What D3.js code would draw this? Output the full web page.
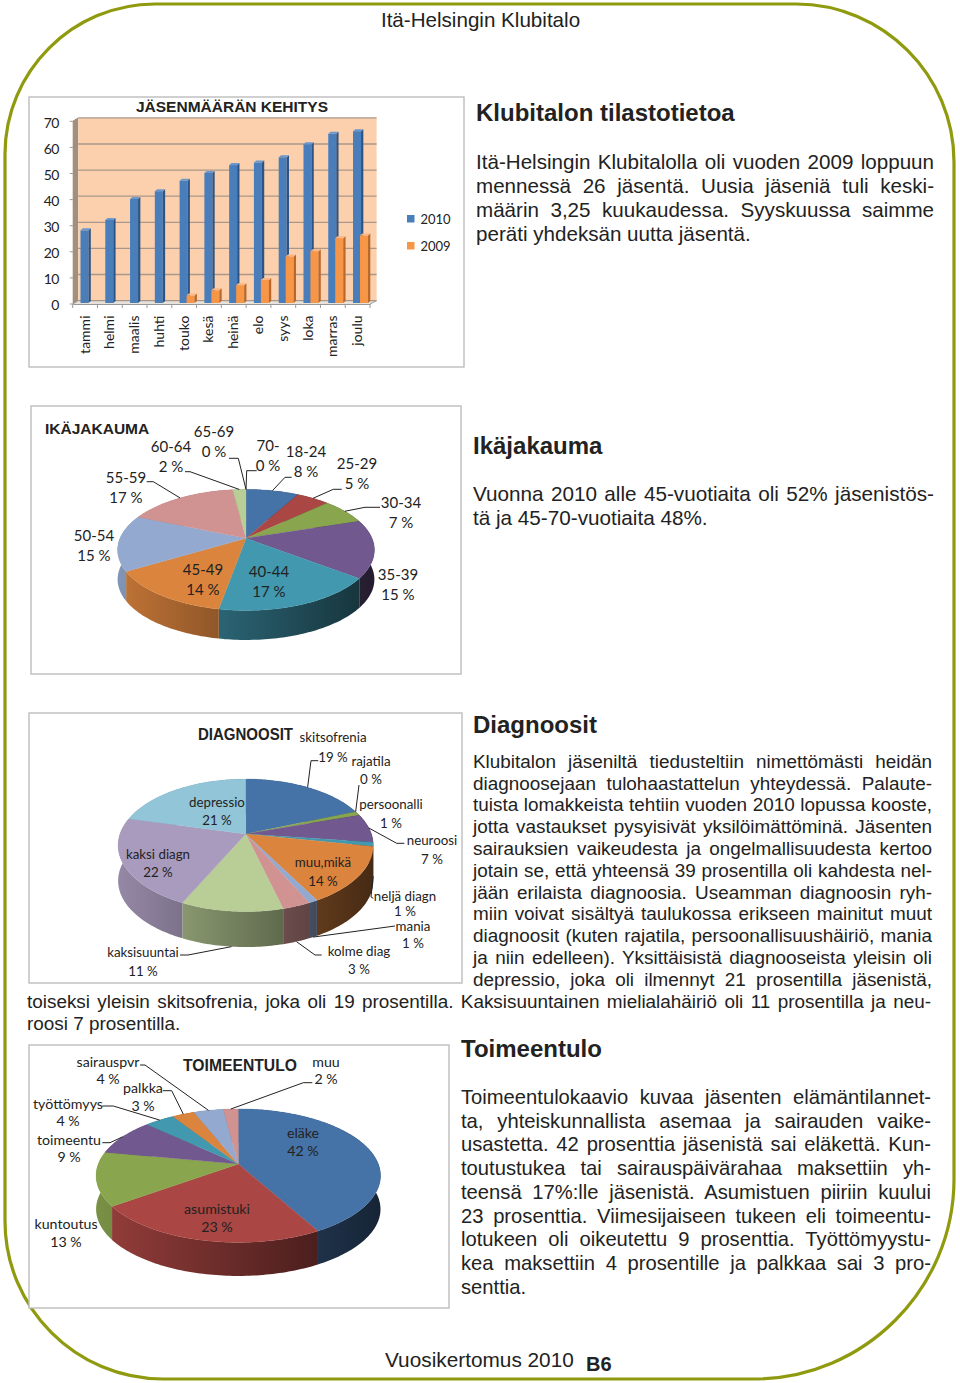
<!DOCTYPE html>
<html><head><meta charset="utf-8">
<script src="https://cdn.jsdelivr.net/npm/d3@7"></script>
<style>
html,body{margin:0;padding:0;background:#fff}
svg{display:block}
text{fill:#222}
.lab{font-family:Lato,"Open Sans",sans-serif;}
.body{font-family:"Liberation Sans",Arial,sans-serif;}
</style></head><body>
<svg id="c" width="960" height="1383"></svg>
<script>
// ---------- data ----------
const months=["tammi","helmi","maalis","huhti","touko","kesä","heinä","elo","syys","loka","marras","joulu"];
const members2010=[28,32,40,43,47,50,53,54,56,61,65,66];
const members2009=[0,0,0,0,3,5,7,9,18,20,25,26];
const yTicks=[0,10,20,30,40,50,60,70];

const ageNames=["18-24","25-29","30-34","35-39","40-44","45-49","50-54","55-59","60-64","65-69","70-"];
const ageValues=[8,5,7,15.4,17.4,13.6,15,16.6,2,0,0];

const diagNames=["skitsofrenia","rajatila","persoonalli","neuroosi","neljä diagn","muu,mikä","mania","kolme diag","kaksisuuntai","kaksi diagn","depressio"];
const diagValues=[19,0,1,7,1,14,1,3,11,22,21];

const incomeNames=["eläke","asumistuki","kuntoutus","toimeentu","työttömyys","palkka","sairauspvr","muu"];
const incomeValues=[42,23,13,9,4,3,4,2];

const palette=["#4572A7","#AA4643","#89A54E","#71588F","#4198AF","#DB843D","#93A9CF","#D19392","#B9CD96","#A99BBD","#92C5D8"];

// ---------- layout of annotations ----------
const agePos=[[306,452],[357,464],[401,503],[398,575],[269,572],[203,570],[94,536],[126,478],[171,447],[214,432],[268,446]];
const ageLeaders={0:[[291.7,477.3],[285,477.3],0],1:[[341.7,489.3],[333.3,489.3],0],2:[[380,507.3],[365,507.3],0],
 7:[[146.7,481.7],[153.3,481.7],0],8:[[185,471.7],[190,471.7],0],9:[[229,458.3],[238.3,458.3],0],10:[[256.7,470.7],[246.7,470.7],0]};

const diagPos=[[333,737],[371,761],[391,804],[432,840],[405,896],[323,862],[413,926.5],[359,951],[143,952],[158,854],[217,802]];
const diagGap=[20,18,19,19,15.5,19,17,18,19,18,18];
const diagLeaders={0:[[318.3,760.7],[311,760.7],0],1:[[359,785],[359,785],0],3:[[404.3,843.3],[396.7,843.3],0],
 4:[[373.3,898.3],[371,897],0.9],6:[[395,926],[395,926],1],7:[[321.7,955],[315,955],1],8:[[180,955],[188,955],1]};

const incomePos=[[303,1133],[217,1209],[66,1224],[69,1140],[68,1104],[143,1088],[108,1062],[326,1062]];
const incomeGap=[18,18,18,17,17,18,17,17];
const incomeLeaders={3:[[102.3,1142.7],[110,1142.7],0],4:[[102.3,1106],[113.3,1106],0],5:[[162.7,1090.7],[171.7,1090.7],0],
 6:[[140,1065],[145,1065],0],7:[[312.3,1082.7],[303.3,1082.7],0]};

// ---------- text ----------
const header="Itä-Helsingin Klubitalo";
const para1=["Itä-Helsingin Klubitalolla oli vuoden 2009 loppuun","mennessä 26 jäsentä. Uusia jäseniä tuli keski-","määrin 3,25 kuukaudessa. Syyskuussa saimme","peräti yhdeksän uutta jäsentä."];
const para2=["Vuonna 2010 alle 45-vuotiaita oli 52% jäsenistös-","tä ja 45-70-vuotiaita 48%."];
const para3=["Klubitalon jäseniltä tiedusteltiin nimettömästi heidän","diagnoosejaan tulohaastattelun yhteydessä. Palaute-","tuista lomakkeista tehtiin vuoden 2010 lopussa kooste,","jotta vastaukset pysyisivät yksilöimättöminä. Jäsenten","sairauksien vaikeudesta ja ongelmallisuudesta kertoo","jotain se, että yhteensä 39 prosentilla oli kahdesta nel-","jään erilaista diagnoosia. Useamman diagnoosin ryh-","miin voivat sisältyä taulukossa erikseen mainitut muut","diagnoosit (kuten rajatila, persoonallisuushäiriö, mania","ja niin edelleen). Yksittäisistä diagnooseista yleisin oli","depressio, joka oli ilmennyt 21 prosentilla jäsenistä,"];
const para3b=["toiseksi yleisin skitsofrenia, joka oli 19 prosentilla. Kaksisuuntainen mielialahäiriö oli 11 prosentilla ja neu-","roosi 7 prosentilla."];
const para4=["Toimeentulokaavio kuvaa jäsenten elämäntilannet-","ta, yhteiskunnallista asemaa ja sairauden vaike-","usastetta. 42 prosenttia jäsenistä sai eläkettä. Kun-","toutustukea tai sairauspäivärahaa maksettiin yh-","teensä 17%:lle jäsenistä. Asumistuen piiriin kuului","23 prosenttia. Viimesijaiseen tukeen eli toimeentu-","lotukeen oli oikeutettu 9 prosenttia. Työttömyystu-","kea maksettiin 4 prosentille ja palkkaa sai 3 pro-","senttia."];

const svg=d3.select("#c");
const defs=svg.append("defs");

// ---------- page frame ----------
const path=d3.path();
const L=5,T=4,R=954,B=1379,rTL=150,rTR=158,rBR=200,rBL=158;
path.moveTo(L+rTL,T);path.lineTo(R-rTR,T);path.bezierCurveTo(R-rTR*.45,T,R,T+rTR*.45,R,T+rTR);
path.lineTo(R,B-rBR);path.bezierCurveTo(R,B-rBR*.45,R-rBR*.45,B,R-rBR,B);
path.lineTo(L+rBL,B);path.bezierCurveTo(L+rBL*.45,B,L,B-rBL*.45,L,B-rBL);
path.lineTo(L,T+rTL);path.bezierCurveTo(L,T+rTL*.45,L+rTL*.45,T,L+rTL,T);path.closePath();
svg.append("path").attr("d",path.toString()).attr("fill","#fff").attr("stroke","#8F9A0E").attr("stroke-width",3.2);

function frame(x0,y0,x1,y1){
 svg.append("rect").attr("x",x0).attr("y",y0).attr("width",x1-x0).attr("height",y1-y0)
  .attr("fill","#fff").attr("stroke","#BDBDBD").attr("stroke-width",1.4);
}
frame(29,97,464,367);frame(31,406,461,674);frame(29,713,462,983);frame(29,1045,449,1308);

// ---------- bar chart ----------
(function(){
 const x=d3.scaleBand().domain(months).range([72.7,370]);
 const y=d3.scaleLinear().domain([0,70]).range([304,121.3]);
 const dx=5.6,dy=-3.4;
 const g=svg.append("g");
 // walls
 g.append("polygon").attr("points",[[x.range()[0],y(0)],[x.range()[0]+dx,y(0)+dy],[x.range()[0]+dx,y(70)+dy],[x.range()[0],y(70)]].join(" ")).attr("fill","#A48E7E");
 g.append("polygon").attr("points",[[x.range()[0]+dx,y(70)+dy],[x.range()[1]+dx+1,y(70)+dy],[x.range()[1]+dx+1,y(0)+dy],[x.range()[0]+dx,y(0)+dy]].join(" ")).attr("fill","#FCD0AC");
 g.append("polygon").attr("points",[[x.range()[0],y(0)],[x.range()[0]+dx,y(0)+dy],[x.range()[1]+dx+1,y(0)+dy],[x.range()[1],y(0)]].join(" ")).attr("fill","#E9E2DA");
 yTicks.forEach(v=>{
  g.append("line").attr("x1",x.range()[0]+dx).attr("x2",x.range()[1]+dx+1).attr("y1",y(v)+dy).attr("y2",y(v)+dy).attr("stroke","#A8978A").attr("stroke-width",1.3);
  g.append("line").attr("x1",x.range()[0]).attr("x2",x.range()[0]+dx).attr("y1",y(v)).attr("y2",y(v)+dy).attr("stroke","#9C8E84").attr("stroke-width",1);
 });
 g.append("line").attr("x1",x.range()[1]).attr("x2",x.range()[1]+dx+1).attr("y1",y(0)).attr("y2",y(0)+dy).attr("stroke","#999");
 function bars(vals,off,front,side,top){
  const w=8,sx=2.3,sy=-2,base=y(0)-1;
  months.forEach((m,i)=>{
   const v=vals[i]; if(!v) return;
   const x0=x(m)+off,y0=y(v)-0.6;
   g.append("rect").attr("x",x0).attr("y",y0).attr("width",w).attr("height",base-y0).attr("fill",front);
   g.append("polygon").attr("points",[[x0+w,y0],[x0+w+sx,y0+sy],[x0+w+sx,base+sy],[x0+w,base]].join(" ")).attr("fill",side);
   g.append("polygon").attr("points",[[x0,y0],[x0+sx,y0+sy],[x0+w+sx,y0+sy],[x0+w,y0]].join(" ")).attr("fill",top);
  });
 }
 bars(members2010,7.8,"#4A7EBB","#2C5587","#6C97CC");
 bars(members2009,14.8,"#F79646","#B8682A","#FBB684");
 // axes
 const ax=g.append("g").attr("transform",`translate(0,${y(0)})`).attr("class","lab")
  .call(d3.axisBottom(x).tickSize(0).tickPadding(0));
 ax.select(".domain").attr("stroke","#999").attr("stroke-width",1);
 ax.selectAll("text").attr("transform","rotate(-90)").attr("text-anchor","end").attr("dy","0.32em").attr("dx","-11.5")
  .attr("x",0).attr("y",0).style("font-size","14px").style("fill","#222");
 d3.range(13).forEach(i=>{
  const px=x.range()[0]+i*x.step();
  g.append("line").attr("x1",px).attr("x2",px).attr("y1",y(0)).attr("y2",y(0)+4).attr("stroke","#999");
 });
 const ay=g.append("g").attr("transform",`translate(${x.range()[0]},1.5)`).attr("class","lab")
  .call(d3.axisLeft(y).tickValues(yTicks).tickSize(0).tickPadding(14));
 ay.select(".domain").remove();
 ay.selectAll("text").style("font-size","14px").style("letter-spacing","-0.6px").style("fill","#222");
 d3.range(yTicks.length).forEach(i=>{const v=yTicks[i];
  g.append("line").attr("x1",x.range()[0]-3).attr("x2",x.range()[0]).attr("y1",y(v)).attr("y2",y(v)).attr("stroke","#999");});
 svg.append("text").attr("class","body").attr("x",232).attr("y",112).attr("text-anchor","middle")
  .attr("font-weight","bold").attr("font-size",15.5).text("JÄSENMÄÄRÄN KEHITYS");
 const leg=[["2010","#4A7EBB",218.5],["2009","#F79646",245.5]];
 leg.forEach(([t,c,py])=>{
  svg.append("rect").attr("x",407).attr("y",py-3.5).attr("width",7.5).attr("height",7.5).attr("fill",c);
  svg.append("text").attr("class","lab").attr("x",420.5).attr("y",py+5).attr("font-size",13).text(t);
 });
})();

// ---------- 3D pies ----------
let gid=0;
function pie3d(o){
 const arcs=d3.pie().sort(null).value(d=>d)(o.values);
 const rim=(th,wall)=>{
  const w=1+o.p*Math.cos(th);
  return [o.cx+o.a*Math.sin(th)/w, o.cy-o.b*Math.cos(th)/w+(wall||0)*o.h];
 };
 const hw=o.a/Math.sqrt(1-o.p*o.p);
 const line=d3.line();
 const g=svg.append("g");
 const samples=(a)=>{const n=Math.max(2,Math.ceil((a.endAngle-a.startAngle)/0.02));
  return d3.range(n+1).map(i=>a.startAngle+(a.endAngle-a.startAngle)*i/n);};
 // side walls
 arcs.forEach((a,i)=>{
  if(!(a.endAngle>a.startAngle)) return;
  const id="w"+(gid++);
  const gr=defs.append("linearGradient").attr("id",id).attr("gradientUnits","userSpaceOnUse")
   .attr("x1",o.cx-hw).attr("x2",o.cx+hw).attr("y1",0).attr("y2",0);
  const mix=d3.interpolateRgb("#000",palette[i]);
  gr.append("stop").attr("offset",0).attr("stop-color",mix(.88));
  gr.append("stop").attr("offset",.5).attr("stop-color",mix(.6));
  gr.append("stop").attr("offset",1).attr("stop-color",mix(.32));
  const th=samples(a);
  const pts=th.map(t=>rim(t,0)).concat(th.slice().reverse().map(t=>rim(t,1)));
  g.append("path").attr("d",line(pts)+"Z").attr("fill",`url(#${id})`);
 });
 // top faces
 arcs.forEach((a,i)=>{
  if(!(a.endAngle>a.startAngle)) return;
  const pts=[[o.cx,o.cy]].concat(samples(a).map(t=>rim(t,0)));
  g.append("path").attr("d",line(pts)+"Z").attr("fill",palette[i]).attr("stroke",palette[i]).attr("stroke-width",.3);
 });
 // leaders
 Object.entries(o.leaders).forEach(([k,l])=>{
  const a=arcs[+k],mid=(a.startAngle+a.endAngle)/2,end=rim(mid,l[2]);
  g.append("path").attr("d",line([l[0],l[1],end])).attr("fill","none").attr("stroke","#222").attr("stroke-width",1);
 });
 // labels
 o.names.forEach((n,i)=>{
  const [x,y]=o.pos[i],gap=o.gap?o.gap[i]:20;
  svg.append("text").attr("class","lab").attr("x",x).attr("y",y).attr("dy",".35em").attr("text-anchor","middle").attr("font-size",o.fs).text(n);
  svg.append("text").attr("class","lab").attr("x",x).attr("y",y+gap).attr("dy",".35em").attr("text-anchor","middle").attr("font-size",o.fs).text(Math.round(o.values[i])+" %");
 });
}
pie3d({values:ageValues,names:ageNames,pos:agePos,leaders:ageLeaders,cx:246,cy:538.3,a:126,b:58.3,p:.192,h:29.5,fs:15});
pie3d({values:diagValues,names:diagNames,pos:diagPos,gap:diagGap,leaders:diagLeaders,cx:245.7,cy:834,a:125.7,b:64.3,p:.171,h:35.5,fs:13.3});
pie3d({values:incomeValues,names:incomeNames,pos:incomePos,gap:incomeGap,leaders:incomeLeaders,cx:238.3,cy:1164,a:140,b:64.7,p:.175,h:33.5,fs:14.2});

svg.append("text").attr("class","body").attr("x",45).attr("y",433.5).attr("font-weight","bold").attr("font-size",15.5).text("IKÄJAKAUMA");
svg.append("text").attr("class","body").attr("x",245.5).attr("y",739.5).attr("text-anchor","middle").attr("font-weight","bold").attr("font-size",16).attr("textLength",95).attr("lengthAdjust","spacingAndGlyphs").text("DIAGNOOSIT");
svg.append("text").attr("class","body").attr("x",240).attr("y",1070.5).attr("text-anchor","middle").attr("font-weight","bold").attr("font-size",15.7).text("TOIMEENTULO");

// ---------- page text ----------
function para(lines,x0,x1,ys,fs,lastLeft){
 lines.forEach((t,i)=>{
  const el=svg.append("text").attr("class","body").attr("x",x0).attr("y",ys[i]).attr("font-size",fs).text(t);
  const n=t.split(" ").length-1;
  if(n>0 && !(lastLeft && i===lines.length-1)){
   const len=el.node().getComputedTextLength();
   el.style("word-spacing",((x1-x0-len)/n)+"px");
  }
 });
}
function heading(t,x,y,fs){svg.append("text").attr("class","body").attr("x",x).attr("y",y).attr("font-weight","bold").attr("font-size",fs).text(t);}
svg.append("text").attr("class","body").attr("x",480.5).attr("y",27).attr("text-anchor","middle").attr("font-size",20.6).text(header);
heading("Klubitalon tilastotietoa",476,121,24);
para(para1,476,934,[169,193,217,241],20.6,true);
heading("Ikäjakauma",473,454,24);
para(para2,473,934,[501,525],20.7,true);
heading("Diagnoosit",473,733,24);
para(para3,473,932,[768,790,811,833,855,877,899,920,942,964,986],18.9,false);
para(para3b,27,931,[1008,1030],18.9,true);
heading("Toimeentulo",461,1057,24);
para(para4,461,931,[1104,1128,1151,1175,1199,1223,1246,1270,1294],20.2,true);
svg.append("text").attr("class","body").attr("x",385).attr("y",1367).attr("font-size",20.8).text("Vuosikertomus 2010");
svg.append("text").attr("class","body").attr("x",586).attr("y",1371).attr("font-weight","bold").attr("font-size",20).text("B6");
</script></body></html>
